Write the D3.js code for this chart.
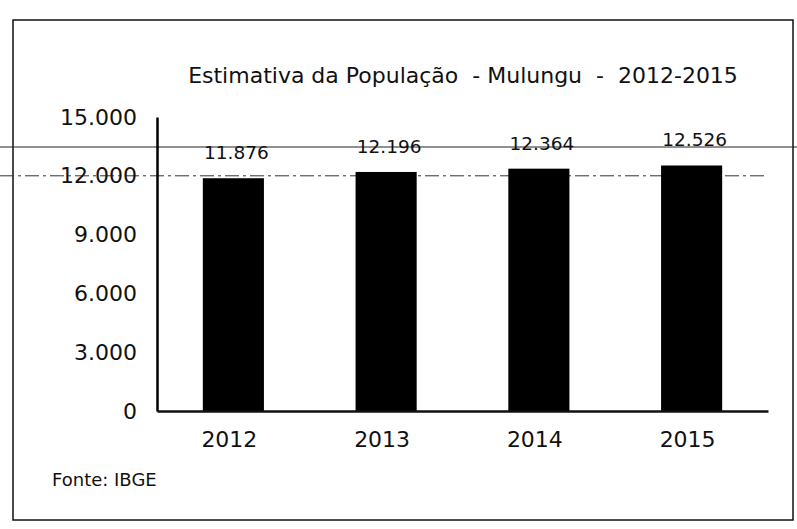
<!DOCTYPE html>
<html>
<head>
<meta charset="utf-8">
<script src="https://cdn.jsdelivr.net/npm/d3@7"></script>
<style>
  body { margin: 0; background: #fff; }
  text { font-family: "DejaVu Sans", "Liberation Sans", sans-serif; fill: #111; }
</style>
</head>
<body>
<div id="chart"></div>
<script>
// --- Dados ---
const anos = ["2012", "2013", "2014", "2015"];
const populacao = [11876, 12196, 12364, 12526];
const yTicks = [0, 3000, 6000, 9000, 12000, 15000];
const titulo = "Estimativa da População  - Mulungu  -  2012-2015";
const fonte = "Fonte: IBGE";

const data = anos.map((a, i) => ({ ano: a, valor: populacao[i] }));

// --- Dimensões ---
const W = 797, H = 529;
const plot = { left: 157, right: 768, top: 117, bottom: 411 };

const svg = d3.select("#chart")
  .append("svg")
    .attr("width", W)
    .attr("height", H);

// moldura
svg.append("rect")
   .attr("x", 13).attr("y", 20)
   .attr("width", 780).attr("height", 500)
   .attr("fill", "none")
   .attr("stroke", "#111")
   .attr("stroke-width", 1.5);

// linha do papel (digitalização)
svg.append("line")
   .attr("x1", 0).attr("x2", W)
   .attr("y1", 147).attr("y2", 147)
   .attr("stroke", "#222").attr("stroke-width", 1);

// --- Escalas ---
const fmt = d3.format(",.0f");
const br = v => fmt(v).replace(/,/g, ".");

const x = d3.scaleBand()
            .domain(anos)
            .range([plot.left, plot.right])
            .paddingInner(0.6)
            .paddingOuter(0.3);

const y = d3.scaleLinear()
            .domain([0, 15000])
            .range([plot.bottom, plot.top]);

// linha de grade em 12.000 (tracejada)
svg.append("line")
   .attr("x1", 0).attr("x2", plot.right)
   .attr("y1", y(12000)).attr("y2", y(12000))
   .attr("stroke", "#333")
   .attr("stroke-width", 1)
   .attr("stroke-dasharray", "14,4,3,4");

// --- Barras ---
svg.selectAll(".bar")
   .data(data)
   .enter()
   .append("rect")
     .attr("class", "bar")
     .attr("x", d => x(d.ano))
     .attr("y", d => y(d.valor))
     .attr("width", x.bandwidth())
     .attr("height", d => y(0) - y(d.valor))
     .attr("fill", "#000");

// rótulos de valor
svg.selectAll(".lbl")
   .data(data)
   .enter()
   .append("text")
     .attr("class", "lbl")
     .attr("x", d => x(d.ano) + x.bandwidth() / 2 + 3)
     .attr("y", d => y(d.valor) - 19)
     .attr("text-anchor", "middle")
     .style("font-size", "18.5px")
     .text(d => br(d.valor));

// --- Eixos ---
const gy = svg.append("g")
   .attr("transform", `translate(${plot.left},0)`)
   .call(d3.axisLeft(y).tickValues(yTicks).tickFormat(br).tickSize(0).tickPadding(20));
gy.select(".domain").attr("stroke", "#000").attr("stroke-width", 2.5);
gy.selectAll("text")
  .style("font-size", "22px")
  .style("font-family", "DejaVu Sans, sans-serif")
  .attr("fill", "#111");

const gx = svg.append("g")
   .attr("transform", `translate(0,${plot.bottom})`)
   .call(d3.axisBottom(x).tickSize(0).tickPadding(20));
gx.select(".domain").attr("stroke", "#111").attr("stroke-width", 2.5);
gx.selectAll("text")
  .style("font-size", "22px")
  .style("font-family", "DejaVu Sans, sans-serif")
  .attr("dx", "-4px")
  .attr("fill", "#111");

// --- Título ---
svg.append("text")
   .attr("x", 463)
   .attr("y", 83)
   .attr("text-anchor", "middle")
   .style("font-size", "22px")
   .style("white-space", "pre")
   .text(titulo);

// fonte
svg.append("text")
   .attr("x", 52)
   .attr("y", 486)
   .style("font-size", "18px")
   .text(fonte);
</script>
</body>
</html>
